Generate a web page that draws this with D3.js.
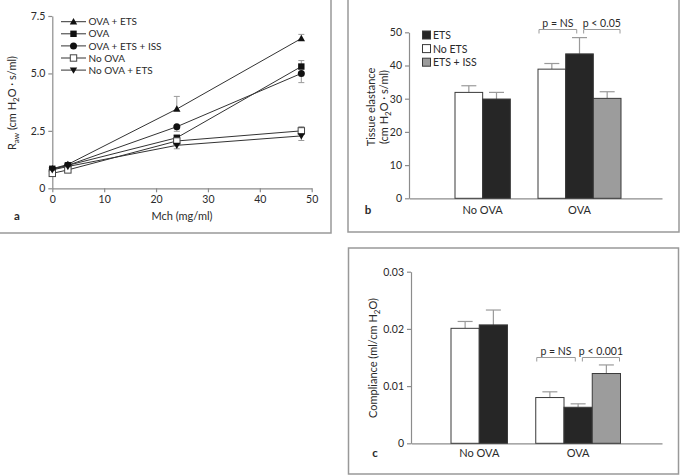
<!DOCTYPE html>
<html><head><meta charset="utf-8">
<script src="https://cdn.jsdelivr.net/npm/d3@7/dist/d3.min.js"></script>
<style>body{margin:0;background:#fff}svg{display:block;font-family:Lato,sans-serif}</style>
</head><body><svg id="c" width="680" height="476"></svg>
<script>
// ---- Panel a data ----
const doses = [0, 3, 24, 48];
const seriesNames = ["OVA + ETS", "OVA", "OVA + ETS + ISS", "No OVA", "No OVA + ETS"];
const seriesMarkers = ["triUp", "square", "circle", "openSquare", "triDown"];
const rawOvaEts = [0.85, 1.04, 3.45, 6.52];
const rawOvaEtsErr = [0.05, 0.05, 0.55, 0.18];
const rawOva = [0.85, 1.0, 2.2, 5.3];
const rawOvaErr = [0.05, 0.05, 0.1, 0.26];
const rawOvaEtsIss = [0.82, 1.0, 2.68, 5.0];
const rawOvaEtsIssErr = [0.05, 0.05, 0.2, 0.4];
const rawNoOva = [0.65, 0.8, 2.06, 2.5];
const rawNoOvaErr = [0.05, 0.05, 0.1, 0.18];
const rawNoOvaEts = [0.8, 0.95, 1.87, 2.28];
const rawNoOvaEtsErr = [0.05, 0.05, 0.15, 0.2];
const xTicksA = [0, 10, 20, 30, 40, 50];
const yTicksA = [0, 2.5, 5.0, 7.5];

// ---- Panel b/c data ----
const groups = ["No OVA", "OVA"];
const barSeries = ["No ETS", "ETS", "ETS + ISS"];
const legendOrder = ["ETS", "No ETS", "ETS + ISS"];
// values per group, order: No ETS, ETS, ETS + ISS (null = absent)
const elastNoOva = [31.9, 29.9, null];
const elastNoOvaErr = [2.0, 2.0, null];
const elastOva = [38.9, 43.5, 30.1];
const elastOvaErr = [1.7, 4.9, 2.0];
const yTicksB = [0, 10, 20, 30, 40, 50];
const compNoOva = [0.0201, 0.0207, null];
const compNoOvaErr = [0.0012, 0.0026, null];
const compOva = [0.0080, 0.0063, 0.0122];
const compOvaErr = [0.0010, 0.0006, 0.0015];
const yTicksC = [0, 0.01, 0.02, 0.03];
const sigB = ["p = NS", "p < 0.05"];
const sigC = ["p = NS", "p < 0.001"];

const svg = d3.select("#c");
const FONT = "Lato,sans-serif";
const axisCol = "#8c8c8c", textCol = "#2a2a2a", lineCol = "#333", errCol = "#9a9a9a";
const fill = {"No ETS": "#fff", "ETS": "#262626", "ETS + ISS": "#9c9c9c"};

// frames
const fr = svg.append("g").attr("fill", "none").attr("stroke", "#999").attr("stroke-width", 1.5);
fr.append("path").attr("d", "M331,0V233H0");
fr.append("path").attr("d", "M348,0V232H679V0");
fr.append("rect").attr("x", 348.5).attr("y", 248).attr("width", 330).attr("height", 226);

function styleAxis(g) {
  g.selectAll("path,line").attr("stroke", axisCol).attr("stroke-width", 1.2);
  g.selectAll("text").attr("fill", textCol).attr("font-size", 10.5).attr("font-family", FONT);
}

// ===== Panel a =====
const xa = d3.scaleLinear().domain([0, 50]).range([52.3, 311.7]);
const ya = d3.scaleLinear().domain([0, 7.5]).range([188.3, 16]);
svg.append("g").attr("transform", "translate(0,188.3)")
  .call(d3.axisBottom(xa).tickValues(xTicksA).tickSize(4).tickSizeOuter(0).tickFormat(d3.format("d")))
  .call(styleAxis);
svg.append("g").attr("transform", "translate(52.3,0)")
  .call(d3.axisLeft(ya).tickValues(yTicksA).tickSize(4).tickSizeOuter(0).tickFormat(d => d === 0 ? "0" : d.toFixed(1)))
  .call(styleAxis);
svg.append("text").attr("x", 182).attr("y", 220).attr("text-anchor", "middle").attr("font-size", 11).attr("fill", textCol).text("Mch (mg/ml)");
svg.append("text").attr("x", 17).attr("y", 220).attr("text-anchor", "middle").attr("font-size", 11.5).attr("font-weight", "bold").attr("fill", textCol).text("a");
{
  const t = svg.append("text").attr("transform", "translate(16,103) rotate(-90)").attr("text-anchor", "middle").attr("font-size", 11).attr("fill", textCol);
  t.append("tspan").text("R");
  t.append("tspan").attr("font-size", 8).attr("dy", 3).text("aw");
  t.append("tspan").attr("dy", -3).text(" (cm H");
  t.append("tspan").attr("font-size", 8).attr("dy", 3).text("2");
  t.append("tspan").attr("dy", -3).text("O · s/ml)");
}
const seriesVals = [rawOvaEts, rawOva, rawOvaEtsIss, rawNoOva, rawNoOvaEts];
const seriesErrs = [rawOvaEtsErr, rawOvaErr, rawOvaEtsIssErr, rawNoOvaErr, rawNoOvaEtsErr];
const errDir = [1, 1, -1, 1, -1];

function marker(g, type, x, y) {
  const s = 3.2;
  if (type === "triUp") g.append("path").attr("d", `M${x},${y - s - 0.5}L${x + s + 0.5},${y + s - 0.5}L${x - s - 0.5},${y + s - 0.5}Z`).attr("fill", "#111");
  else if (type === "triDown") g.append("path").attr("d", `M${x},${y + s + 0.5}L${x + s + 0.5},${y - s + 0.5}L${x - s - 0.5},${y - s + 0.5}Z`).attr("fill", "#111");
  else if (type === "square") g.append("rect").attr("x", x - s).attr("y", y - s).attr("width", 2 * s).attr("height", 2 * s).attr("fill", "#111");
  else if (type === "openSquare") g.append("rect").attr("x", x - s).attr("y", y - s).attr("width", 2 * s).attr("height", 2 * s).attr("fill", "#fff").attr("stroke", "#444").attr("stroke-width", 1);
  else g.append("circle").attr("cx", x).attr("cy", y).attr("r", s + 0.3).attr("fill", "#111");
}
const ga = svg.append("g");
const line = d3.line().x((d, i) => xa(doses[i])).y(d => ya(d));
seriesVals.forEach((vals, si) => {
  vals.forEach((v, i) => {
    const e = seriesErrs[si][i];
    if (e < 0.1) return;
    const y2 = ya(v + errDir[si] * e);
    ga.append("line").attr("x1", xa(doses[i])).attr("x2", xa(doses[i])).attr("y1", ya(v)).attr("y2", y2).attr("stroke", errCol).attr("stroke-width", 1);
    ga.append("line").attr("x1", xa(doses[i]) - 3).attr("x2", xa(doses[i]) + 3).attr("y1", y2).attr("y2", y2).attr("stroke", errCol).attr("stroke-width", 1);
  });
});
seriesVals.forEach((vals) => {
  ga.append("path").attr("d", line(vals)).attr("fill", "none").attr("stroke", lineCol).attr("stroke-width", 1);
});
seriesVals.forEach((vals, si) => {
  vals.forEach((v, i) => marker(ga, seriesMarkers[si], xa(doses[i]), ya(v)));
});
// legend a
seriesNames.forEach((n, i) => {
  const y = 21.7 + i * 12.1;
  ga.append("line").attr("x1", 61).attr("x2", 86).attr("y1", y).attr("y2", y).attr("stroke", lineCol).attr("stroke-width", 1);
  marker(ga, seriesMarkers[i], 73.5, y);
  ga.append("text").attr("x", 88.5).attr("y", y + 3.6).attr("font-size", 10).attr("fill", textCol).text(n);
});

// ===== Bar panels =====
function barPanel(opt) {
  const g = svg.append("g");
  const y = d3.scaleLinear().domain(opt.domain).range([opt.y0, opt.yTop]);
  // slot positions: group 0 -> slots 0,1 ; group 1 -> slots 3,4,5
  const xs = d3.scaleBand().domain(d3.range(6)).range([opt.barStart, opt.barEnd]).padding(0);
  const bw = xs.bandwidth();
  const groupSlot = gi => gi === 0 ? 0 : 3;
  g.append("g").attr("transform", `translate(0,${opt.y0})`)
    .call(d3.axisBottom(d3.scaleLinear().domain([0, 1]).range([opt.axisX, opt.axisEnd])).tickValues([]).tickSizeOuter(0))
    .call(styleAxis);
  g.append("g").attr("transform", `translate(${opt.axisX},0)`)
    .call(d3.axisLeft(y).tickValues(opt.ticks).tickSize(4).tickSizeOuter(0).tickFormat(opt.fmt))
    .call(styleAxis);
  const data = [opt.vals0, opt.vals1], errs = [opt.err0, opt.err1];
  data.forEach((vals, gi) => {
    vals.forEach((v, si) => {
      if (v == null) return;
      const x0 = xs(groupSlot(gi) + si);
      const top = y(v + errs[gi][si]);
      g.append("line").attr("x1", x0 + bw / 2).attr("x2", x0 + bw / 2).attr("y1", y(v)).attr("y2", top).attr("stroke", errCol).attr("stroke-width", 1.2);
      g.append("line").attr("x1", x0 + bw / 2 - 7.5).attr("x2", x0 + bw / 2 + 7.5).attr("y1", top).attr("y2", top).attr("stroke", errCol).attr("stroke-width", 1.2);
      g.append("rect").attr("x", x0).attr("y", y(v)).attr("width", bw).attr("height", opt.y0 - y(v))
        .attr("fill", fill[barSeries[si]]).attr("stroke", "#3a3a3a").attr("stroke-width", 1);
    });
  });
  groups.forEach((c, gi) => {
    const n = data[gi].filter(v => v != null).length;
    const cx = xs(groupSlot(gi)) + (n / 2) * bw;
    g.append("text").attr("x", cx).attr("y", opt.labY).attr("text-anchor", "middle").attr("font-size", 11).attr("fill", textCol).text(c);
  });
  g.append("text").attr("x", opt.letterX).attr("y", opt.labY).attr("text-anchor", "middle").attr("font-size", 11.5).attr("font-weight", "bold").attr("fill", textCol).text(opt.letter);
  // significance brackets
  opt.sig.forEach((s, k) => {
    const l = k === 0 ? xs(3) + 1 : xs(4) + 0.65 * bw;
    const r = k === 0 ? xs(4) + 0.4 * bw : xs(5) + bw - 1;
    const by = opt.brY;
    g.append("path").attr("d", `M${l},${by + 4}V${by}H${r}V${by + 4}`).attr("fill", "none").attr("stroke", errCol).attr("stroke-width", 1);
    g.append("text").attr("x", (l + r) / 2).attr("y", by - 3).attr("text-anchor", "middle").attr("font-size", 10.5).attr("fill", textCol).text(s);
  });
  return g;
}

const gb = barPanel({domain: [0, 50], y0: 198.3, yTop: 32.3, ticks: yTicksB, fmt: d3.format("d"),
  axisX: 409, axisEnd: 662, barStart: 455, barEnd: 621,
  vals0: elastNoOva, err0: elastNoOvaErr, vals1: elastOva, err1: elastOvaErr,
  labY: 214, letter: "b", letterX: 368, sig: sigB, brY: 29.5});
{
  svg.append("text").attr("transform", "translate(375,107) rotate(-90)").attr("text-anchor", "middle").attr("font-size", 11).attr("fill", textCol).text("Tissue elastance");
  const t2 = svg.append("text").attr("transform", "translate(388,107) rotate(-90)").attr("text-anchor", "middle").attr("font-size", 11).attr("fill", textCol);
  t2.append("tspan").text("(cm H");
  t2.append("tspan").attr("font-size", 8).attr("dy", 3).text("2");
  t2.append("tspan").attr("dy", -3).text("O · s/ml)");
}
legendOrder.forEach((n, i) => {
  const y = 35 + i * 13.6;
  gb.append("rect").attr("x", 422.5).attr("y", y - 4).attr("width", 8).attr("height", 8).attr("fill", fill[n]).attr("stroke", "#3a3a3a").attr("stroke-width", 1);
  gb.append("text").attr("x", 433).attr("y", y + 4).attr("font-size", 10.5).attr("fill", textCol).text(n);
});

barPanel({domain: [0, 0.03], y0: 443.3, yTop: 271.7, ticks: yTicksC, fmt: d => d === 0 ? "0" : d3.format(".2f")(d),
  axisX: 411, axisEnd: 662, barStart: 451, barEnd: 620.5,
  vals0: compNoOva, err0: compNoOvaErr, vals1: compOva, err1: compOvaErr,
  labY: 457, letter: "c", letterX: 375, sig: sigC, brY: 357.5});
{
  const t = svg.append("text").attr("transform", "translate(377,358) rotate(-90)").attr("text-anchor", "middle").attr("font-size", 11).attr("fill", textCol);
  t.append("tspan").text("Compliance (ml/cm H");
  t.append("tspan").attr("font-size", 8).attr("dy", 3).text("2");
  t.append("tspan").attr("dy", -3).text("O)");
}
</script></body></html>
